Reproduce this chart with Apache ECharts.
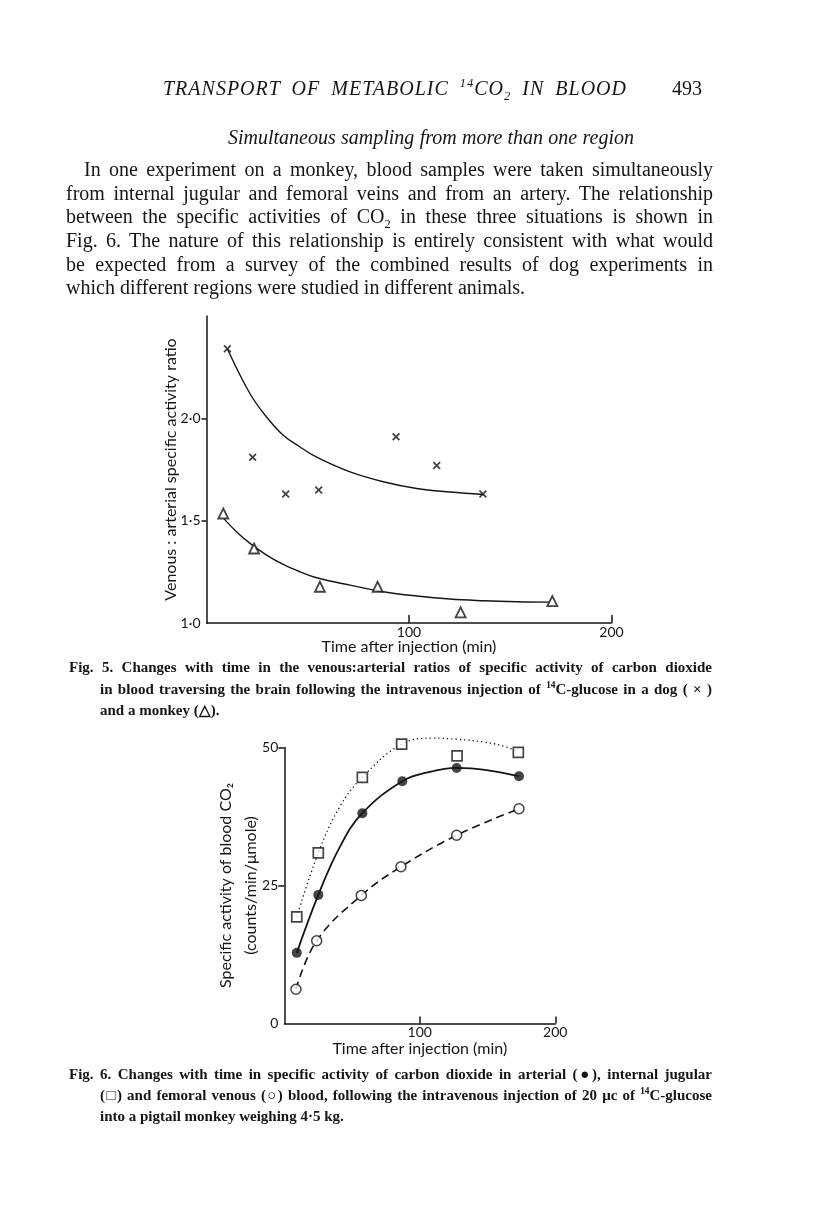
<!DOCTYPE html>
<html>
<head>
<meta charset="utf-8">
<script src="https://cdn.jsdelivr.net/npm/echarts@6/dist/echarts.min.js"></script>
<style>
  body { margin: 0; background: #fff; }
  #page { position: relative; width: 816px; height: 1226px; overflow: hidden; }
  #chart { position: absolute; left: 0; top: 0; width: 816px; height: 1226px; }
  .t { position: absolute; font-family: "Liberation Serif", serif; color: #151515; white-space: nowrap; }
  .j { white-space: normal; text-align: justify; text-align-last: justify; }
  .body { font-size: 20px; height: 24px; line-height: 24px; }
  .cap { font-size: 15px; font-weight: bold; height: 20px; line-height: 20px; }
  sup, sub { font-size: 0.62em; line-height: 0; }
</style>
</head>
<body>
<div id="page">
  <div id="chart"></div>

  <div class="t j" style="left:163px;top:76px;width:464px;font-size:20px;font-style:italic;line-height:24px;letter-spacing:1px;">TRANSPORT OF METABOLIC <sup>14</sup>CO<sub>2</sub> IN BLOOD</div>
  <div class="t" style="left:672px;top:76px;font-size:20px;line-height:24px;">493</div>

  <div class="t j" style="left:228px;top:125px;width:406px;font-size:20px;font-style:italic;line-height:24px;">Simultaneous sampling from more than one region</div>

  <div class="t j body" style="left:84px;top:157px;width:629px;">In one experiment on a monkey, blood samples were taken simultaneously</div>
  <div class="t j body" style="left:66px;top:181px;width:647px;">from internal jugular and femoral veins and from an artery. The relationship</div>
  <div class="t j body" style="left:66px;top:204px;width:647px;">between the specific activities of CO<sub>2</sub> in these three situations is shown in</div>
  <div class="t j body" style="left:66px;top:228px;width:647px;">Fig. 6. The nature of this relationship is entirely consistent with what would</div>
  <div class="t j body" style="left:66px;top:252px;width:647px;">be expected from a survey of the combined results of dog experiments in</div>
  <div class="t body" style="left:66px;top:275px;">which different regions were studied in different animals.</div>

  <div class="t j cap" style="left:69px;top:657px;width:643px;">Fig. 5. Changes with time in the venous:arterial ratios of specific activity of carbon dioxide</div>
  <div class="t j cap" style="left:100px;top:679px;width:612px;">in blood traversing the brain following the intravenous injection of <sup>14</sup>C-glucose in a dog ( &#215; )</div>
  <div class="t cap" style="left:100px;top:700px;">and a monkey (&#9651;).</div>

  <div class="t j cap" style="left:69px;top:1064px;width:643px;">Fig. 6. Changes with time in specific activity of carbon dioxide in arterial (&#9679;), internal jugular</div>
  <div class="t j cap" style="left:100px;top:1085px;width:612px;">(&#9633;) and femoral venous (&#9675;) blood, following the intravenous injection of 20 &#956;c of <sup>14</sup>C-glucose</div>
  <div class="t cap" style="left:100px;top:1106px;">into a pigtail monkey weighing 4&#183;5 kg.</div>
</div>

<script>
// Fig. 5 - venous:arterial ratio, dog (x) and monkey (triangle)
var dogTime = [10.3, 22.8, 39.1, 55.4, 93.6, 113.7, 136.5];
var dogRatio = [2.34, 1.81, 1.63, 1.65, 1.91, 1.77, 1.63];
var monkeyTime = [8.3, 23.5, 56.0, 84.5, 125.5, 170.8];
var monkeyRatio = [1.535, 1.364, 1.177, 1.177, 1.052, 1.107];

// hand drawn fitted curves
var dogCurveTime = [10.3, 21.5, 29.7, 37.9, 46.2, 54.4, 70.9, 87.3, 103.8, 120.2, 136.7];
var dogCurveRatio = [2.34, 2.12, 2.006, 1.917, 1.86, 1.81, 1.738, 1.69, 1.657, 1.64, 1.628];
var monkeyCurveTime = [8.6, 14.9, 21.5, 29.7, 37.9, 46.2, 54.4, 70.9, 87.3, 103.8, 120.2, 136.7, 153.2, 169.6];
var monkeyCurveRatio = [1.51, 1.445, 1.389, 1.332, 1.286, 1.25, 1.221, 1.185, 1.153, 1.132, 1.117, 1.109, 1.104, 1.102];

var fig5XTicks = [100, 200];
var fig5YTicks = [1.5, 2.0];
var fig5YLabels = [1.0, 1.5, 2.0];

// Fig. 6 - specific activity of blood CO2
var arterialTime = [9.2, 25.1, 57.6, 87.1, 127.2, 173.2];
var arterialAct = [12.8, 23.3, 38.1, 43.9, 46.3, 44.8];
var jugularTime = [9.2, 25.1, 57.6, 86.6, 127.5, 172.7];
var jugularAct = [19.3, 30.9, 44.6, 50.6, 48.5, 49.1];
var femoralTime = [8.6, 23.9, 56.8, 86.1, 127.2, 173.2];
var femoralAct = [6.2, 15.0, 23.2, 28.4, 34.1, 38.9];

var arterialCurveTime = [9.2, 25.1, 41, 57.6, 87.1, 107.5, 127.2, 149.4, 173.2];
var arterialCurveAct = [12.8, 23.3, 32.0, 38.1, 43.9, 45.6, 46.3, 45.9, 44.8];
var jugularCurveTime = [9.2, 25.1, 41, 57.6, 86.6, 110, 127, 147, 164, 172.7];
var jugularCurveAct = [19.3, 30.9, 39.3, 44.6, 50.6, 51.7, 51.5, 51.0, 50.1, 49.1];

var fig6XTicks = [100, 200];
var fig6YTicks = [25, 50];
var fig6YLabels = [0, 25, 50];

function pairs(xs, ys) {
    var out = [];
    for (var i = 0; i < xs.length; i++) out.push([xs[i], ys[i]]);
    return out;
}

var ink = '#151515';
var sans = 'Lato';
var crossPath = 'path://M0,1.6L1.6,0L5,3.4L8.4,0L10,1.6L6.6,5L10,8.4L8.4,10L5,6.6L1.6,10L0,8.4L3.4,5Z';

function xAx(grid, ticks, tickLen, gap) {
    return {
        type: 'value', gridIndex: grid, min: 0, max: 200,
        name: 'Time after injection (min)', nameLocation: 'middle', nameGap: gap, nameMoveOverlap: false,
        nameTextStyle: { color: ink, fontFamily: sans, fontSize: 16 },
        axisLine: { lineStyle: { color: ink, width: 1.5 } },
        axisTick: { inside: true, length: tickLen, customValues: ticks, lineStyle: { color: ink, width: 1.5 } },
        axisLabel: { customValues: ticks, margin: 2, color: ink, fontFamily: sans, fontSize: 14 },
        splitLine: { show: false }
    };
}

var myChart = echarts.init(document.getElementById('chart'));

var option = {
    animation: false,
    backgroundColor: 'transparent',
    grid: [
        { left: 206.5, top: 316, width: 405, height: 307 },
        { left: 284.3, top: 747.5, width: 271, height: 276 }
    ],
    xAxis: [
        xAx(0, fig5XTicks, 8, 16),
        xAx(1, fig6XTicks, 7, 17)
    ],
    yAxis: [
        {
            type: 'value', gridIndex: 0, min: 1, max: 2.5,
            name: 'Venous : arterial specific activity ratio', nameLocation: 'middle', nameGap: 28, nameMoveOverlap: false,
            nameTextStyle: { color: ink, fontFamily: sans, fontSize: 16 },
            axisLine: { lineStyle: { color: ink, width: 1.5 } },
            axisTick: { length: 5, customValues: fig5YTicks, lineStyle: { color: ink, width: 1.5 } },
            axisLabel: {
                customValues: fig5YLabels, margin: 6, color: ink, fontFamily: sans, fontSize: 14,
                formatter: function (v) { return v.toFixed(1).replace('.', '\u00b7'); }
            },
            splitLine: { show: false }
        },
        {
            type: 'value', gridIndex: 1, min: 0, max: 50,
            name: 'Specific activity of blood CO\u2082\n(counts/min/\u03bcmole)', nameLocation: 'middle', nameGap: 21, nameMoveOverlap: false,
            nameTextStyle: { color: ink, fontFamily: sans, fontSize: 16, lineHeight: 25 },
            axisLine: { lineStyle: { color: ink, width: 1.5 } },
            axisTick: { length: 6, customValues: fig6YTicks, lineStyle: { color: ink, width: 1.5 } },
            axisLabel: { customValues: fig6YLabels, margin: 6, color: ink, fontFamily: sans, fontSize: 14 },
            splitLine: { show: false }
        }
    ],
    series: [
        // fig 5 curves
        { type: 'line', xAxisIndex: 0, yAxisIndex: 0, data: pairs(dogCurveTime, dogCurveRatio), smooth: 0.4, showSymbol: false, lineStyle: { color: ink, width: 1.4 }, z: 2 },
        { type: 'line', xAxisIndex: 0, yAxisIndex: 0, data: pairs(monkeyCurveTime, monkeyCurveRatio), smooth: 0.4, showSymbol: false, lineStyle: { color: ink, width: 1.4 }, z: 2 },
        { type: 'scatter', xAxisIndex: 0, yAxisIndex: 0, data: pairs(dogTime, dogRatio), symbol: crossPath, symbolSize: 8, itemStyle: { color: ink }, z: 3 },
        { type: 'scatter', xAxisIndex: 0, yAxisIndex: 0, data: pairs(monkeyTime, monkeyRatio), symbol: 'triangle', symbolSize: [10, 10], itemStyle: { color: '#fff', borderColor: ink, borderWidth: 1.8 }, z: 3 },

        // fig 6 curves
        { type: 'line', xAxisIndex: 1, yAxisIndex: 1, data: pairs(jugularCurveTime, jugularCurveAct), smooth: 0.4, showSymbol: false, clip: false, lineStyle: { color: ink, width: 1.3, type: [1.3, 3] }, z: 2 },
        { type: 'line', xAxisIndex: 1, yAxisIndex: 1, data: pairs(arterialCurveTime, arterialCurveAct), smooth: 0.4, showSymbol: false, clip: false, lineStyle: { color: ink, width: 1.8 }, z: 2 },
        { type: 'line', xAxisIndex: 1, yAxisIndex: 1, data: pairs(femoralTime, femoralAct), smooth: 0.4, showSymbol: false, clip: false, lineStyle: { color: ink, width: 1.6, type: [8, 5] }, z: 2 },
        { type: 'scatter', xAxisIndex: 1, yAxisIndex: 1, data: pairs(jugularTime, jugularAct), symbol: 'rect', symbolSize: 10, clip: false, itemStyle: { color: '#fff', borderColor: ink, borderWidth: 1.7 }, z: 3 },
        { type: 'scatter', xAxisIndex: 1, yAxisIndex: 1, data: pairs(arterialTime, arterialAct), symbol: 'circle', symbolSize: 10, clip: false, itemStyle: { color: ink }, z: 3 },
        { type: 'scatter', xAxisIndex: 1, yAxisIndex: 1, data: pairs(femoralTime, femoralAct), symbol: 'circle', symbolSize: 10, clip: false, itemStyle: { color: '#fff', borderColor: ink, borderWidth: 1.5 }, z: 3 }
    ]
};

myChart.setOption(option);
</script>
</body>
</html>
